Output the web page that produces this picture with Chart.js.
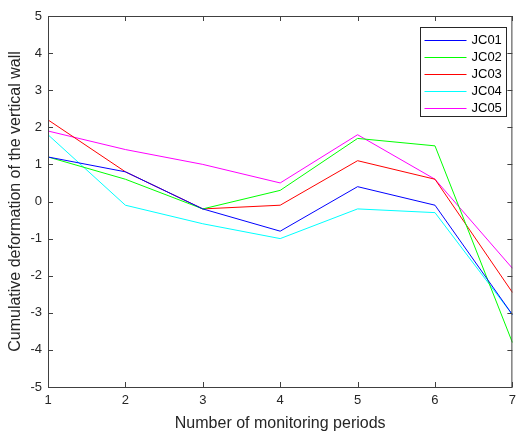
<!DOCTYPE html>
<html>
<head>
<meta charset="utf-8">
<script src="https://cdn.jsdelivr.net/npm/chart.js@4/dist/chart.umd.min.js"></script>
<style>
  html, body { margin: 0; padding: 0; background: #fff; }
  #wrap { width: 522px; height: 431px; position: relative; }
</style>
</head>
<body>
<div id="wrap"><canvas id="chart" width="522" height="431"></canvas></div>
<script>
const periods = ["1", "2", "3", "4", "5", "6", "7"];
const seriesNames = ["JC01", "JC02", "JC03", "JC04", "JC05"];
const jc01 = [1.2, 0.8, -0.2, -0.8, 0.4, -0.1, -3.05];
const jc02 = [1.2, 0.6, -0.2, 0.3, 1.7, 1.5, -3.8];
const jc03 = [2.2, 0.8, -0.2, -0.1, 1.1, 0.6, -2.45];
const jc04 = [1.8, -0.1, -0.6, -1.0, -0.2, -0.3, -3.05];
const jc05 = [1.9, 1.4, 1.0, 0.5, 1.8, 0.6, -1.8];
const seriesColors = ["#0000ff", "#00ff00", "#ff0000", "#00ffff", "#ff00ff"];
const yTicks = [-5, -4, -3, -2, -1, 0, 1, 2, 3, 4, 5];

const axisColor = "#404040";
const fontFamily = "'Liberation Sans', Arial, sans-serif";

// box round the plot, inward ticks on all four sides, legend inside top right
const matlabAxes = {
  id: "matlabAxes",
  afterDraw(chart) {
    const ctx = chart.ctx;
    const { left, right, top, bottom } = chart.chartArea;
    const xs = chart.scales.x, ys = chart.scales.y;
    const len = 5;
    ctx.save();
    ctx.strokeStyle = axisColor;
    ctx.lineWidth = 1;
    ctx.beginPath();
    xs.ticks.forEach((t, i) => {
      const px = Math.round(xs.getPixelForTick(i)) + 0.5;
      ctx.moveTo(px, bottom); ctx.lineTo(px, bottom - len);
      ctx.moveTo(px, top); ctx.lineTo(px, top + len);
    });
    ys.ticks.forEach((t, i) => {
      const py = Math.round(ys.getPixelForTick(i)) + 0.5;
      ctx.moveTo(left, py); ctx.lineTo(left + len, py);
      ctx.moveTo(right, py); ctx.lineTo(right - len, py);
    });
    ctx.stroke();
    ctx.strokeRect(left + 0.5, top + 0.5, right - left - 1, bottom - top);

    // legend
    const bx = 420.5, by = 27.5, bw = 86, bh = 89;
    ctx.fillStyle = "#fff";
    ctx.fillRect(bx, by, bw, bh);
    ctx.strokeStyle = "#262626";
    ctx.strokeRect(bx, by, bw, bh);
    ctx.font = "13px " + fontFamily;
    ctx.textBaseline = "middle";
    ctx.textAlign = "left";
    chart.data.datasets.forEach((ds, i) => {
      const y = by + 12 + i * 17;
      ctx.strokeStyle = ds.borderColor;
      ctx.beginPath();
      ctx.moveTo(bx + 4, Math.round(y) + 0.5);
      ctx.lineTo(bx + 46, Math.round(y) + 0.5);
      ctx.stroke();
      ctx.fillStyle = "#000";
      ctx.fillText(ds.label, bx + 51, y + 1);
    });
    ctx.restore();
  }
};

const allSeries = [jc01, jc02, jc03, jc04, jc05];

new Chart(document.getElementById("chart"), {
  type: "line",
  data: {
    labels: periods,
    datasets: allSeries.map((vals, i) => ({
      label: seriesNames[i],
      data: vals,
      borderColor: seriesColors[i],
      backgroundColor: seriesColors[i],
      borderWidth: 1,
      pointRadius: 0,
      tension: 0,
      fill: false
    }))
  },
  options: {
    responsive: false,
    animation: false,
    layout: { padding: { left: 0, top: 16, right: 4, bottom: 0 } },
    plugins: { legend: { display: false }, tooltip: { enabled: false } },
    scales: {
      x: {
        type: "category",
        offset: false,
        grid: { display: false, drawTicks: false },
        border: { display: false },
        ticks: { color: "#262626", font: { family: fontFamily, size: 13 }, padding: 6, maxRotation: 0 },
        title: {
          display: true,
          text: "Number of monitoring periods",
          color: "#262626",
          font: { family: fontFamily, size: 16 },
          padding: { top: 0, bottom: -2 }
        },
        afterFit(scale) { scale.height = 44; }
      },
      y: {
        min: -5,
        max: 5,
        afterBuildTicks(scale) { scale.ticks = yTicks.map(v => ({ value: v })); },
        grid: { display: false, drawTicks: false },
        border: { display: false },
        ticks: { color: "#262626", font: { family: fontFamily, size: 13 }, padding: 6 },
        title: {
          display: true,
          text: "Cumulative deformation of the vertical wall",
          color: "#262626",
          font: { family: fontFamily, size: 16 },
          padding: { top: 6, bottom: 0 }
        },
        afterFit(scale) { scale.width = 48; }
      }
    }
  },
  plugins: [matlabAxes]
});
</script>
</body>
</html>
